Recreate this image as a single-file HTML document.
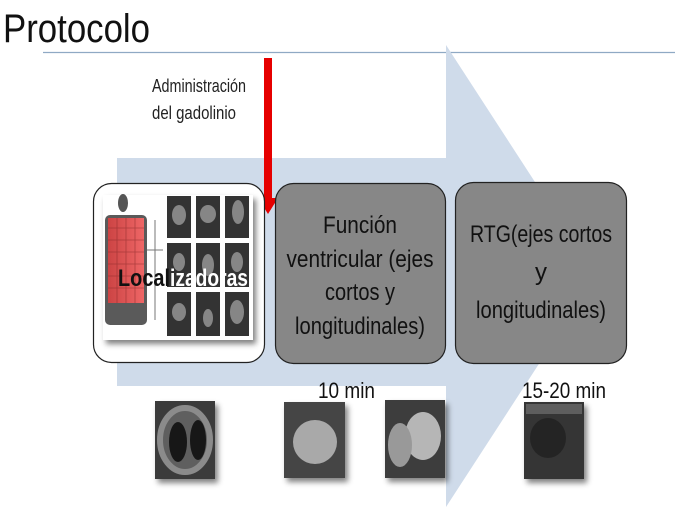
<!DOCTYPE html>
<html><head><meta charset="utf-8"><style>
html,body{margin:0;padding:0;background:#fff;}
svg{display:block;}
</style></head><body>
<svg width="675" height="510" viewBox="0 0 675 510" xmlns="http://www.w3.org/2000/svg" font-family="Liberation Sans, sans-serif">
<defs>
<filter id="sh" x="-30%" y="-30%" width="160%" height="160%"><feGaussianBlur in="SourceAlpha" stdDeviation="3"/><feOffset dx="3" dy="4"/><feComponentTransfer><feFuncA type="linear" slope="0.5"/></feComponentTransfer><feMerge><feMergeNode/><feMergeNode in="SourceGraphic"/></feMerge></filter>
<linearGradient id="rg" x1="0" y1="0" x2="1" y2="0"><stop offset="0" stop-color="#c44"/><stop offset="1" stop-color="#e66"/></linearGradient>
</defs>
<text x="3" y="42" font-size="40" textLength="147" lengthAdjust="spacingAndGlyphs" fill="#111">Protocolo</text>
<line x1="43" y1="52.5" x2="675" y2="52.5" stroke="#8fa9c4" stroke-width="1.2"/>
<polygon points="117,158 446,158 446,45 596,276 446,507 446,386 117,386" fill="#cfdbea"/>
<rect x="264" y="58" width="8" height="145" fill="#e60000"/>
<polygon points="258,198 278,198 268,214" fill="#e60000"/>
<text x="152" y="92" font-size="18" textLength="94" lengthAdjust="spacingAndGlyphs" fill="#222">Administración</text>
<text x="152" y="119" font-size="18" textLength="84" lengthAdjust="spacingAndGlyphs" fill="#222">del gadolinio</text>
<rect x="93.5" y="183.5" width="171" height="179" rx="18" fill="#fff" stroke="#222" stroke-width="1.2"/>
<g filter="url(#sh)">
<rect x="103" y="195" width="150" height="145" fill="#fff"/>
</g>
<ellipse cx="123" cy="203" rx="5" ry="9" fill="#555"/>
<rect x="105" y="215" width="42" height="110" rx="5" fill="#5a5a5a"/>
<rect x="108" y="218" width="36" height="85" fill="url(#rg)"/>
<g stroke="#8a2a2a" stroke-width="0.8" opacity="0.6">
<line x1="108" y1="228" x2="144" y2="228"/><line x1="108" y1="240" x2="144" y2="240"/><line x1="108" y1="252" x2="144" y2="252"/><line x1="108" y1="264" x2="144" y2="264"/><line x1="108" y1="276" x2="144" y2="276"/><line x1="108" y1="288" x2="144" y2="288"/>
<line x1="117" y1="218" x2="117" y2="303"/><line x1="126" y1="218" x2="126" y2="303"/><line x1="135" y1="218" x2="135" y2="303"/>
</g>
<g stroke="#777" fill="none" stroke-width="1"><polyline points="147,250 163,250"/><polyline points="155,220 155,320"/></g>
<g fill="#333">
<rect x="167" y="196" width="24" height="42"/><rect x="196" y="196" width="24" height="42"/><rect x="225" y="196" width="24" height="42"/>
<rect x="167" y="243" width="24" height="44"/><rect x="196" y="243" width="24" height="44"/><rect x="225" y="243" width="24" height="44"/>
<rect x="167" y="292" width="24" height="44"/><rect x="196" y="292" width="24" height="44"/><rect x="225" y="292" width="24" height="44"/>
</g>
<g fill="#aaa" opacity="0.7">
<ellipse cx="179" cy="215" rx="7" ry="10"/><ellipse cx="208" cy="214" rx="8" ry="9"/><ellipse cx="238" cy="212" rx="6" ry="12"/>
<ellipse cx="179" cy="262" rx="6" ry="9"/><ellipse cx="208" cy="265" rx="6" ry="11"/><ellipse cx="237" cy="262" rx="6" ry="10"/>
<ellipse cx="179" cy="312" rx="7" ry="9"/><ellipse cx="208" cy="318" rx="5" ry="9"/><ellipse cx="237" cy="312" rx="7" ry="12"/>
</g>
<text x="118" y="286" font-size="24" font-weight="bold" textLength="52" lengthAdjust="spacingAndGlyphs" fill="#111">Local</text>
<text x="170" y="286" font-size="24" font-weight="bold" textLength="78" lengthAdjust="spacingAndGlyphs" fill="#fff">izadoras</text>
<rect x="275.5" y="183.5" width="170" height="180" rx="18" fill="#878787" stroke="#222" stroke-width="1.2"/>
<g font-size="24" fill="#111" text-anchor="middle">
<text x="360" y="233" textLength="74" lengthAdjust="spacingAndGlyphs">Función</text>
<text x="360" y="267" textLength="147" lengthAdjust="spacingAndGlyphs">ventricular (ejes</text>
<text x="360" y="300" textLength="70" lengthAdjust="spacingAndGlyphs">cortos y</text>
<text x="360" y="334" textLength="130" lengthAdjust="spacingAndGlyphs">longitudinales)</text>
</g>
<rect x="455.5" y="182.5" width="171" height="181" rx="18" fill="#878787" stroke="#222" stroke-width="1.2"/>
<g font-size="24" fill="#111" text-anchor="middle">
<text x="541" y="242" textLength="142" lengthAdjust="spacingAndGlyphs">RTG(ejes  cortos</text>
<text x="541" y="280">y</text>
<text x="541" y="318" textLength="130" lengthAdjust="spacingAndGlyphs">longitudinales)</text>
</g>
<text x="318" y="398" font-size="22" textLength="57" lengthAdjust="spacingAndGlyphs" fill="#111">10 min</text>
<text x="522" y="398" font-size="22" textLength="84" lengthAdjust="spacingAndGlyphs" fill="#111">15-20 min</text>
<g filter="url(#sh)">
<rect x="155" y="401" width="60" height="78" fill="#3a3a3a"/>
<rect x="284" y="402" width="61" height="76" fill="#444"/>
<rect x="385" y="400" width="60" height="78" fill="#3c3c3c"/>
<rect x="524" y="402" width="60" height="77" fill="#353535"/>
</g>
<g opacity="0.85">
<ellipse cx="185" cy="440" rx="25" ry="32" fill="#666" stroke="#999" stroke-width="6"/>
<ellipse cx="178" cy="442" rx="9" ry="20" fill="#111"/><ellipse cx="198" cy="440" rx="8" ry="20" fill="#111"/>
<ellipse cx="315" cy="442" rx="22" ry="22" fill="#bbb"/>
<ellipse cx="423" cy="436" rx="18" ry="24" fill="#ccc"/>
<ellipse cx="400" cy="445" rx="12" ry="22" fill="#aaa"/>
<ellipse cx="548" cy="438" rx="18" ry="20" fill="#222"/>
<rect x="526" y="404" width="56" height="10" fill="#666"/>
</g>
</svg>
</body></html>
